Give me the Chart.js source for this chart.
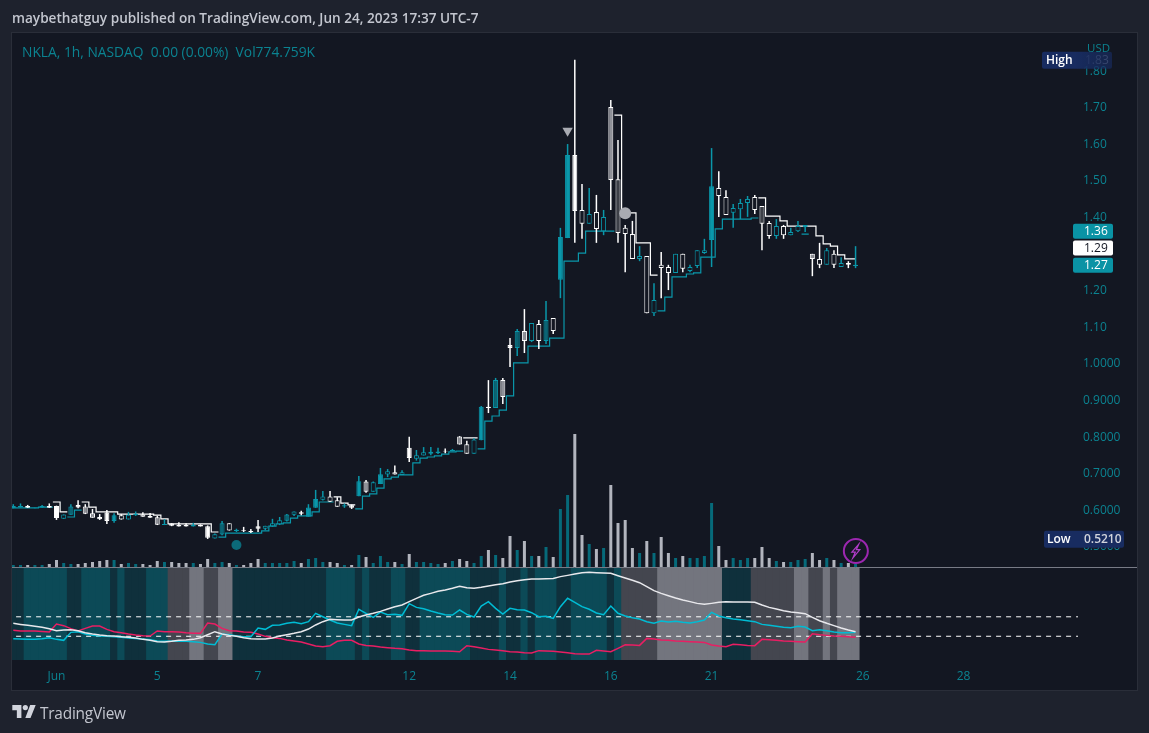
<!DOCTYPE html>
<html><head><meta charset="utf-8">
<style>
html,body{margin:0;padding:0;width:1149px;height:733px;overflow:hidden;background:#1e222d}
#panel{position:absolute;left:11px;top:32px;width:1125px;height:657px;background:#131722;border:1px solid #2a2e39}
canvas{position:absolute;left:0;top:0}
.t{position:absolute;white-space:pre;font-family:"Open Sans",sans-serif}
#head{left:12px;top:8px;font-size:13.6px;font-weight:600;color:#c3c6cf}
#leg{left:22px;top:42px;font-size:13.8px;color:#0b8391}
#usd{left:1087px;top:40px;font-size:11.5px;color:#0b8391}
#brand{left:40px;top:703px;font-size:15.4px;color:#c3c6cf;letter-spacing:-.2px}
#logo{position:absolute;left:12px;top:705px}
</style></head><body>
<div id="panel"></div>
<canvas id="c" width="1149" height="733"></canvas>
<div class="t" id="head">maybethatguy published on TradingView.com, Jun 24, 2023 17:37 UTC-7</div>
<div class="t" id="leg">NKLA, 1h, NASDAQ  0.00 (0.00%)  Vol774.759K</div>
<div class="t" id="usd">USD</div>
<svg id="logo" width="24" height="13" viewBox="0 0 36 20"><path fill="#d1d4dc" d="M14 20H7V8H0V0h14v20zM28 20h-8l7.5-20H36l-8 20z"/><circle cx="20" cy="4" r="4" fill="#d1d4dc"/></svg>
<div class="t" id="brand">TradingView</div>
<script src="https://cdn.jsdelivr.net/npm/chart.js@4/dist/chart.umd.min.js"></script>
<script>
const _=null;
const candleKind='TTWTTWWtdWggWWTwtTwWgTWWWTWWtdwTWWWtttdtWTTtwwTWTgtTtwtWttTTWTgktTWdgWdgtwdwTTWwtwtgkwwtwtwwtwtttTwwtttwkwtwttTgwtwtwT'.split('');
const bodyTop=[.612,.612,.612,.607,.612,.612,.612,.589,.611,.615,.611,.592,.582,.594,.587,.587,.588,.590,.589,.585,.581,.563,.564,.560,.560,.560,.560,.557,.535,.565,.565,.547,.546,.544,.557,.558,.565,.573,.589,.597,
.595,.608,.631,.638,.638,.628,.614,.614,.680,.679,.677,.699,.707,.704,.704,.771,.751,.759,.760,.761,.763,.765,.802,.781,.794,
.883,.883,.956,.956,1.052,1.090,1.090,1.112,1.109,1.120,1.126,1.347,1.571,1.571,1.421,1.410,1.415,1.402,1.702,1.505,1.372,1.355,1.295,1.295,1.175,1.271,1.265,1.301,1.301,1.265,1.311,1.311,1.486,1.481,1.456,1.426,1.440,1.451,1.456,1.432,1.385,1.377,1.377,1.361,1.377,1.380,1.301,1.287,1.311,1.301,1.276,1.276,1.271];
const bodyBottom=[.606,.609,.607,.606,.608,.607,.579,.577,.588,.608,.591,.580,.576,.571,.571,.575,.575,.587,.583,.580,.561,.560,.558,.556,.556,.556,.556,.525,.523,.534,.545,.544,.544,.541,.550,.550,.557,.562,.572,.588,
.591,.583,.607,.629,.624,.610,.611,.607,.639,.651,.651,.672,.698,.698,.697,.743,.741,.750,.755,.757,.761,.762,.780,.755,.755,
.792,.880,.880,.910,1.044,1.044,1.063,1.063,1.063,1.063,1.090,1.230,1.344,1.418,1.383,1.383,1.369,1.363,1.503,1.358,1.355,1.287,1.287,1.139,1.139,1.262,1.249,1.249,1.260,1.254,1.268,1.303,1.339,1.459,1.407,1.413,1.423,1.440,1.421,1.383,1.350,1.350,1.352,1.352,1.363,1.374,1.287,1.271,1.271,1.271,1.265,1.271,1.268];
const wickHigh=[.617,.619,.615,.607,.615,.619,.613,.589,.617,.628,.617,.604,.590,.601,.592,.590,.596,.597,.595,.593,.585,.576,.565,.568,.565,.566,.562,.559,.537,.571,.565,.550,.555,.549,.574,.558,.577,.582,.590,.597,
.599,.617,.656,.653,.653,.636,.619,.616,.694,.683,.679,.716,.713,.723,.710,.801,.765,.773,.773,.771,.769,.768,.803,.790,.797,
.885,.956,.962,.962,1.071,1.096,1.150,1.112,1.120,1.172,1.126,1.372,1.601,1.831,1.492,1.481,1.462,1.421,1.721,1.612,1.380,1.391,1.322,1.295,1.221,1.306,1.271,1.301,1.301,1.271,1.311,1.342,1.590,1.527,1.475,1.437,1.451,1.459,1.462,1.432,1.391,1.396,1.380,1.372,1.391,1.380,1.301,1.331,1.317,1.311,1.292,1.281,1.322];
const wickLow=[.606,.608,.607,.606,.607,.607,.574,.577,.588,.606,.590,.580,.574,.563,.566,.575,.575,.585,.583,.580,.560,.560,.557,.556,.556,.556,.556,.522,.523,.532,.545,.541,.541,.538,.541,.546,.555,.560,.570,.585,
.587,.583,.607,.627,.623,.610,.607,.604,.639,.648,.651,.672,.691,.698,.697,.732,.736,.750,.751,.754,.756,.762,.780,.755,.755,
.792,.866,.880,.891,.992,1.022,1.030,1.060,1.041,1.055,1.082,1.180,1.344,1.331,1.342,1.383,1.331,1.352,1.421,1.331,1.251,1.287,1.281,1.139,1.131,1.180,1.202,1.249,1.251,1.251,1.262,1.301,1.265,1.402,1.407,1.372,1.396,1.402,1.410,1.311,1.342,1.342,1.342,1.352,1.361,1.361,1.240,1.262,1.271,1.262,1.265,1.262,1.262];
const volumeK=[500,500,500,500,500,750,1750,1000,750,750,1000,1250,1500,1750,1750,750,1000,750,750,500,1500,1250,1250,1000,1000,1000,750,2000,1000,1250,1000,500,500,1000,2000,1000,1000,1000,1000,1500,
1000,2000,2250,1250,1250,1000,500,500,3000,2500,1000,2750,1250,1250,750,3250,1250,1250,1000,750,1000,1500,2000,1500,1000,2750,4250,3000,2250,7750,4250,6500,2750,2750,5000,2500,14500,18000,33250,8000,5750,4500,
4750,20500,11000,11750,4750,3500,6500,3500,7500,3500,2250,2750,2250,2250,2750,16000,5250,1750,2250,1750,2250,2250,5000,2250,1500,1250,1250,1750,2000,3500,1750,2250,1750,1000,1000,775];
const stepTeal=[.607,.607,.607,.607,.609,.609,_,_,.582,.601,
_,_,_,_,_,_,_,_,_,_,
_,_,_,_,_,_,_,_,_,.527,
.538,.538,.538,.538,.538,.544,.557,.563,.566,.579,
.585,.585,.596,.623,.623,_,_,_,.604,.639,
.645,.661,.686,.691,.697,.697,.730,.743,.746,.749,
.754,.760,.762,_,_,.768,.844,.858,.874,.913,
1.003,1.003,1.049,1.049,1.049,1.071,1.071,1.281,1.281,1.303,
1.363,1.363,1.363,1.363,_,_,_,_,_,_,
1.145,1.183,1.238,1.238,1.246,1.249,1.292,1.292,1.369,1.396,
1.396,1.396,1.396,1.399,_,_,_,_,_,_,
1.355,_,_,_,_,_,_,_];
const stepWhite=[_,_,_,_,_,_,.623,.596,_,_,
.623,.609,.596,.596,.596,.590,.590,.590,.590,.590,
.587,.577,.563,.563,.563,.563,.563,.563,.541,_,
_,_,_,_,_,_,_,_,_,_,
_,_,_,_,_,.637,.620,.615,_,_,
_,_,_,_,_,_,_,_,_,_,
_,_,_,.798,.798,_,_,_,_,_,
_,_,_,_,_,_,_,_,_,_,
_,_,_,_,1.680,1.413,1.413,1.331,1.331,1.243,
_,_,_,_,_,_,_,_,_,_,
_,_,_,_,1.454,1.404,1.404,1.391,1.377,1.377,
1.377,1.377,1.350,1.328,1.322,1.298,1.287,1.287];
const oscWhite=[33.3,32.2,31.2,30.2,29.2,27.8,25.7,26.4,26.8,25.7,23.6,22.3,21.3,20.6,20.2,19.6,18.9,18.2,16.8,15.8,14.4,14.1,14.8,15.8,16.1,16.8,18.5,21.6,24.7,22.3,20.9,19.9,18.5,17.5,17.2,17.2,18.2,20.2,21.6,23.0,24.7,27.4,31.6,35.0,37.4,37.0,36.7,36.7,39.8,41.8,43.6,45.6,48.0,50.4,52.1,55.6,59.0,62.1,64.1,66.2,67.6,69.3,71.3,69.9,69.3,70.3,71.7,73.0,74.1,75.8,77.1,78.2,78.9,78.9,79.2,79.5,81.3,82.6,84.0,85.4,85.7,85.4,85.0,84.7,82.3,79.9,77.5,75.1,71.0,66.9,64.1,61.7,59.3,57.3,55.6,53.8,52.8,53.8,54.9,55.6,55.2,55.2,55.2,54.9,52.1,49.7,48.0,46.3,44.9,44.2,43.2,39.4,36.0,33.3,30.9,28.5,26.4,24.7];
const oscTeal=[17.5,17.2,16.8,16.8,17.5,18.5,16.8,15.8,24.0,24.7,22.3,20.9,20.2,19.9,19.6,18.9,18.2,17.8,17.2,16.5,15.1,14.8,15.1,14.8,14.8,14.4,13.7,12.0,11.3,22.3,21.6,20.2,19.6,19.6,28.5,27.1,31.2,31.6,33.3,34.3,32.9,35.0,43.6,40.1,36.7,33.6,32.2,30.9,47.7,43.6,39.4,44.9,42.2,42.5,41.5,53.5,49.7,48.3,46.0,43.9,42.2,41.8,47.0,42.5,39.8,51.1,55.6,48.7,42.9,48.7,47.3,47.0,44.2,40.1,40.5,38.4,50.4,59.0,54.9,50.4,47.7,43.9,42.2,51.1,43.6,40.8,39.1,37.7,35.0,33.3,35.7,34.6,35.3,34.3,33.6,35.0,36.7,44.6,40.8,39.1,37.7,37.0,36.0,35.0,32.2,31.2,30.2,29.2,28.8,30.2,29.5,25.7,26.8,25.7,24.4,23.6,23.6,24.0];
const oscPink=[26.1,25.4,25.4,25.4,25.0,24.4,32.6,30.9,27.8,25.4,28.1,30.5,30.5,27.1,24.7,23.6,22.3,21.3,20.6,20.2,25.4,24.7,24.7,24.4,23.6,23.0,23.0,33.6,32.6,28.1,25.7,25.4,24.4,24.0,22.3,19.9,18.5,17.8,16.1,15.1,14.1,12.0,10.0,9.3,10.3,14.8,15.8,15.8,12.0,10.6,10.0,8.9,8.2,7.6,7.2,5.8,5.2,5.2,4.8,4.8,4.8,4.5,4.1,10.3,9.3,7.9,6.5,5.8,5.2,4.1,3.8,3.1,2.8,5.2,4.8,4.5,3.8,3.1,2.1,1.7,1.7,5.5,4.8,4.1,7.6,11.3,11.0,10.6,17.8,17.2,16.1,15.8,15.1,14.8,14.4,14.1,13.7,11.0,10.0,9.3,11.7,11.3,10.6,10.3,16.8,16.5,15.8,15.1,14.8,14.4,14.1,22.6,21.6,20.9,20.2,19.9,19.6,18.9];
const bandKind='DDLLLLLLDDLLLLDLDDDLLLGGGWWGGWWDDDDDDDDDDDDDLLLLDLDDDLLDDLLLLLLLDDDDLDDLDLLLDDLLLLLDLGGGGGWWWWWWWWWDDDDGGGGGGWWGGWGWWW'.split('');
const oscGuides=[40,20];
const xTickIndex=[6,20,34,55,69,83,97,118,132];
const xTickLabel=['Jun','5','7','12','14','16','21','26','28'];
const priceTicks=[.5,.6,.7,.8,.9,1,1.1,1.2,1.3,1.4,1.5,1.6,1.7,1.8];
const priceLabels=['0.5000','0.6000','0.7000','0.8000','0.9000','1.0000','1.10','1.20','','1.40','1.50','1.60','1.70','1.80'];
const oscTicks=[0,40,80];
const oscLabels=['0.0000','40.00','80.00'];
const priceBadges=[{v:1.363,t:'1.36',bg:'#0a93a5',fg:'#fff'},{v:1.317,t:'1.29',bg:'#ffffff',fg:'#131722'},{v:1.27,t:'1.27',bg:'#0a93a5',fg:'#fff'}];
const highValue=1.83, lowValue=0.521;
const signalDown={x:77,y:1.637}, signalCircle={x:85,y:1.412}, signalTeal={x:31,y:.5055}, boltMark={x:117.04,y:.489};

const TEAL='#0a97aa', WHITE='#ffffff', BG='#131722', AXIS='#0b8391';
const isTeal=k=>k==='T'||k==='t'||k==='d';
const bodyFill={T:TEAL,t:BG,d:'#0b6474',W:WHITE,w:BG,g:'#8f9198',k:'#3d4048'};
const bandFill={D:'#0f303c',L:'#0c4a57',G:'#44464f',W:'#73757e'};
const idx=volumeK.map((_v,i)=>i);
const stepPts=a=>{const o=[];a.forEach((v,i)=>{if(v===null)o.push({x:i,y:null});else o.push({x:i-.5,y:v},{x:i===a.length-1?i:i+.5,y:v});});return o;};
const linePts=a=>a.map((v,i)=>({x:i,y:v}));

const barBase={type:'bar',grouped:false,borderWidth:0,inflateAmount:0};
const datasets=[
 {...barBase,order:100,yAxisID:'yOsc',barThickness:8,data:idx.map(i=>({x:i,y:[-4.42,90.7]})),backgroundColor:bandKind.map(k=>bandFill[k])},
 {...barBase,order:90,yAxisID:'yVol',barThickness:3,data:idx.map(i=>({x:i,y:volumeK[i]})),backgroundColor:candleKind.map(k=>isTeal(k)?'#066a7a':'#b2b5be')},
 ...oscGuides.map(g=>({type:'line',order:60,yAxisID:'yOsc',data:[{x:-1,y:g},{x:150,y:g}],borderColor:'#ffffff',borderWidth:1,borderDash:[5,5],pointRadius:0})),
 {type:'line',order:52,yAxisID:'yOsc',data:linePts(oscPink),borderColor:'#e91e63',borderWidth:1.5,pointRadius:0},
 {type:'line',order:51,yAxisID:'yOsc',data:linePts(oscTeal),borderColor:'#00bcd4',borderWidth:1.5,pointRadius:0},
 {type:'line',order:50,yAxisID:'yOsc',data:linePts(oscWhite),borderColor:'#e8e8ec',borderWidth:1.5,pointRadius:0},
 {type:'line',order:35,yAxisID:'y',data:stepPts(stepTeal),borderColor:TEAL,borderWidth:1.2,pointRadius:0,spanGaps:false},
 {type:'line',order:34,yAxisID:'y',data:stepPts(stepWhite),borderColor:WHITE,borderWidth:1.2,pointRadius:0,spanGaps:false},
 {...barBase,order:30,yAxisID:'y',barThickness:1.5,data:idx.map(i=>({x:i,y:[wickLow[i],wickHigh[i]]})),backgroundColor:candleKind.map(k=>isTeal(k)?TEAL:WHITE)},
 {...barBase,order:20,yAxisID:'y',barThickness:5,borderWidth:1,borderSkipped:false,data:idx.map(i=>({x:i,y:[bodyBottom[i],bodyTop[i]]})),backgroundColor:candleKind.map(k=>bodyFill[k]),borderColor:candleKind.map(k=>isTeal(k)?TEAL:WHITE)},
 {type:'scatter',order:5,yAxisID:'y',data:[signalDown],pointStyle:'triangle',rotation:180,pointRadius:6,backgroundColor:'#a9abb2',borderWidth:0},
 {type:'scatter',order:5,yAxisID:'y',data:[signalCircle],pointStyle:'circle',pointRadius:6,backgroundColor:'#a9abb2',borderWidth:0},
 {type:'scatter',order:5,yAxisID:'y',data:[signalTeal],pointStyle:'circle',pointRadius:5,backgroundColor:'#0c6a79',borderWidth:0},
 {type:'scatter',order:5,yAxisID:'y',data:[boltMark],pointStyle:'circle',pointRadius:12,backgroundColor:'rgba(0,0,0,0)',borderColor:'#9c27b0',borderWidth:2}
];

const overlay={id:'overlay',afterDraw(ch){
 const c=ch.ctx,py=ch.scales.y,vol=ch.scales.yVol,xs=ch.scales.x;
 c.save();
 const y0=Math.round(vol.getPixelForValue(0))+.5;
 c.strokeStyle='#787b86';c.lineWidth=1;c.beginPath();c.moveTo(12,y0);c.lineTo(1137,y0);c.stroke();
 c.font='12px "Open Sans",sans-serif';c.textBaseline='middle';
 priceBadges.forEach(b=>{const y=py.getPixelForValue(b.v);c.fillStyle=b.bg;c.beginPath();c.roundRect(1073,y-7.5,40,15,2);c.fill();c.fillStyle=b.fg;c.fillText(b.t,1084,y+.5);});
 const hy=py.getPixelForValue(highValue);
 c.fillStyle='#7f828c';c.fillText(highValue.toFixed(2),1085,hy+.5);
 const g=c.createLinearGradient(1075,0,1112,0);g.addColorStop(0,'rgba(24,44,96,1)');g.addColorStop(1,'rgba(24,44,96,.65)');
 c.fillStyle='#182c60';c.beginPath();c.roundRect(1042,hy-8.5,33,17,[2,0,0,2]);c.fill();
 c.fillStyle=g;c.beginPath();c.roundRect(1075,hy-8.5,37,17,[0,2,2,0]);c.fill();
 c.fillStyle='#ffffff';c.font='600 12px "Open Sans",sans-serif';c.fillText('High',1046,hy+.5);
 const ly=py.getPixelForValue(lowValue);
 c.fillStyle='#182c60';c.beginPath();c.roundRect(1044,ly-8.5,80,17,2);c.fill();
 c.fillStyle='#ffffff';c.font='600 12px "Open Sans",sans-serif';c.fillText('Low',1047,ly+.5);
 c.fillStyle='#d1d4dc';c.fillText(lowValue.toFixed(4),1084,ly+.5);
 const bx=xs.getPixelForValue(boltMark.x),by=py.getPixelForValue(boltMark.y);
 c.strokeStyle='#b03cc8';c.lineWidth=1.2;c.beginPath();
 [[3,-7],[-4,1],[-.5,1],[-3,7],[4,-1.5],[.5,-1.5]].forEach((p,i)=>i?c.lineTo(bx+p[0],by+p[1]):c.moveTo(bx+p[0],by+p[1]));
 c.closePath();c.stroke();
 c.restore();
}};

const tickFont={family:'"Open Sans",sans-serif',size:12};
new Chart(document.getElementById('c'),{
 data:{datasets},
 plugins:[overlay],
 options:{
  responsive:false,animation:false,events:[],
  layout:{autoPadding:false,padding:{left:12,top:33,right:12,bottom:43}},
  plugins:{legend:{display:false},tooltip:{enabled:false}},
  scales:{
   x:{type:'linear',min:-0.18,max:147.9,offset:false,grid:{display:false},border:{display:false},
      afterBuildTicks:s=>{s.ticks=xTickIndex.map(v=>({value:v}));},
      afterFit:s=>{s.height=30;s.paddingLeft=0;s.paddingRight=0;},
      ticks:{color:AXIS,font:tickFont,autoSkip:false,maxRotation:0,padding:1,callback:v=>xTickLabel[xTickIndex.indexOf(v)]}},
   yOsc:{type:'linear',position:'right',weight:-1,min:-4.42,max:640.3,grid:{display:false,drawTicks:false},border:{display:false},
      afterBuildTicks:s=>{s.ticks=oscTicks.map(v=>({value:v}));},
      afterFit:s=>{s.width=0;s.paddingTop=0;s.paddingBottom=0;},
      ticks:{color:AXIS,font:tickFont,autoSkip:false,padding:5,callback:v=>oscLabels[oscTicks.indexOf(v)]}},
   y:{type:'linear',position:'right',weight:1,min:.1913,max:1.9044,grid:{display:false,drawTicks:false},border:{display:false},
      afterBuildTicks:s=>{s.ticks=priceTicks.map(v=>({value:v}));},
      afterFit:s=>{s.width=59;s.paddingTop=0;s.paddingBottom=0;},
      ticks:{color:AXIS,font:tickFont,autoSkip:false,padding:5,callback:v=>priceLabels[priceTicks.indexOf(v)]}},
   yVol:{type:'linear',display:false,min:-23250,max:133500}
  }
 }
});
</script>
</body></html>
